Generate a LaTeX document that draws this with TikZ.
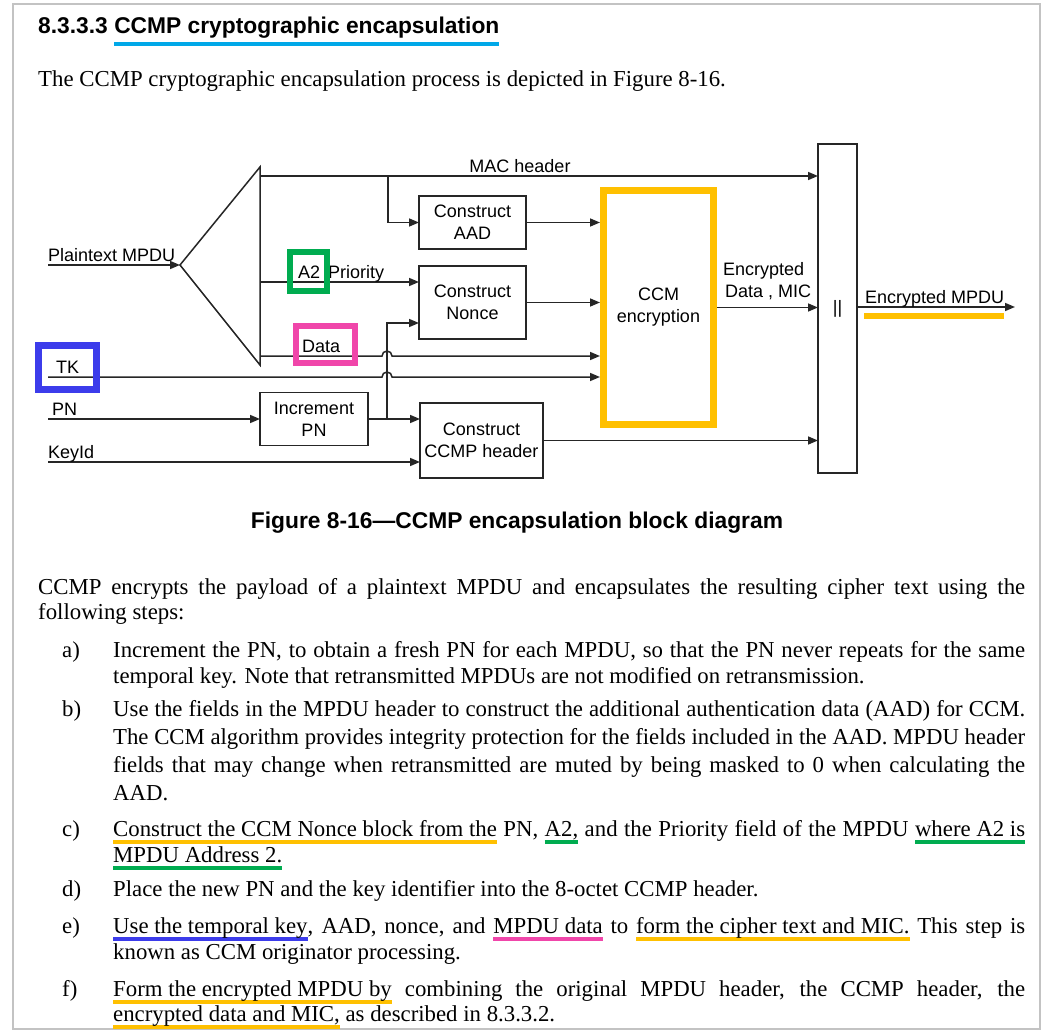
\documentclass[tikz,border=0pt]{standalone}
\usepackage{fontspec}
\usepackage{graphicx}
\setmainfont{Liberation Serif}
\setsansfont{Liberation Sans}
\usetikzlibrary{arrows.meta,positioning,calc}
\definecolor{hlorange}{RGB}{255,192,0}
\definecolor{hlgreen}{RGB}{0,172,80}
\definecolor{hlpink}{RGB}{240,70,170}
\definecolor{hlblue}{RGB}{60,60,235}
\definecolor{hlcyan}{RGB}{0,168,232}
\definecolor{pageedge}{RGB}{195,195,195}

\newcommand\bodyfont{\fontsize{22.8pt}{27pt}\selectfont}
\newcommand\headfont{\sffamily\bfseries\fontsize{22.8pt}{27pt}\selectfont}
\newcommand\diafont{\sffamily\fontsize{18pt}{22pt}\selectfont}
% coloured marker line under a piece of text
\newcommand\hlline[3][-8pt]{\setbox0\hbox{#3}\rlap{\color{#2}\rule[#1]{\wd0}{4.5pt}}\box0\relax}
% one justified line of the body text
\newcommand\jl[2][912pt]{\setbox2\hbox{#2}%
  \ifdim\wd2>#1\relax\resizebox{#1}{\height}{\box2}\else\hbox to #1{\unhbox2}\fi}

\begin{document}
\begin{tikzpicture}[x=1pt,y=-1pt,
  blk/.style={draw=black!85, line width=1.5pt, font=\diafont, align=center, inner sep=0pt, outer sep=0pt},
  arr/.style={draw=black!85, line width=1.5pt, -{Triangle[length=10pt,width=8pt]}},
  ln/.style={draw=black!85, line width=1.5pt},
  lbl/.style={font=\diafont, inner sep=0pt, anchor=base west},
  txt/.style={font=\bodyfont, inner sep=0pt, anchor=base west},
  hlbox/.style={line width=6pt, inner sep=0pt, minimum width=#1}]
  \useasboundingbox (0,0) rectangle (1045,1036);
  \fill[white] (0,0) rectangle (1045,1036);
  \draw[pageedge, line width=2pt] (13,4) rectangle (1040,1029);

  % ===== heading =====
  \node[txt, font=\headfont] (head) at (38,33) {8.3.3.3 \hlline[-13pt]{hlcyan}{CCMP cryptographic encapsulation}};
  \node[txt] (intro) at (38,86) {The CCMP cryptographic encapsulation process is depicted in Figure 8-16.};

  % ===== blocks =====
  \node[blk, minimum width=107pt, minimum height=53pt] (aad) at (472.5,222.5) {Construct\\AAD};
  \node[blk, minimum width=107pt, minimum height=73pt] (nonce) at (472.5,302.5) {Construct\\Nonce};
  \node[blk, minimum width=108pt, minimum height=53pt] (inc) at (314,419) {Increment\\PN};
  \node[blk, minimum width=123pt, minimum height=75pt] (hdr) at (481.5,440.5) {Construct\\CCMP header};
  \node[blk, draw=hlorange, line width=7pt, outer sep=3.5pt, minimum width=110pt, minimum height=234pt] (ccm) at (658.5,307.5) {CCM\\encryption};
  \node[blk, minimum width=39pt, minimum height=329pt] (cat) at (837.5,308.5) {||};

  % splitter for the plaintext MPDU
  \coordinate (tip) at (180,265);
  \coordinate (ttop) at (260,167);
  \coordinate (tbot) at (260,365);
  \draw[ln] (ttop) -- (tip) -- (tbot) -- cycle;

  % ===== inputs =====
  \coordinate (ptin) at (48,265);
  \coordinate (mac) at (260,176);
  \coordinate (macbr) at (388,176);
  \coordinate (a2in) at (260,282);
  \coordinate (datain) at (260,356);
  \coordinate (tkin) at (48,377);
  \coordinate (pnin) at (48,419);
  \coordinate (kidin) at (48,462);
  \coordinate (pnbr) at (387,419);
  \coordinate (ncin) at ([yshift=-20.5pt]nonce.west);
  \coordinate (mpduout) at (1015,307);

  \draw[arr] (ptin) -- (tip);
  \draw[arr] (mac) -- (cat.west |- mac);
  \draw[arr] (macbr) |- (aad.west);
  \draw[arr] (aad.east) -- (ccm.west |- aad.east);
  \draw[arr] (a2in) -- (nonce.west |- a2in);
  \draw[arr] (nonce.east) -- (ccm.west |- nonce.east);
  \draw[arr] (datain) -- ([xshift=-5pt]datain -| pnbr) arc[start angle=180,end angle=0,radius=5pt] -- (ccm.west |- datain);
  \draw[arr] (tkin) -- ([xshift=-5pt]tkin -| pnbr) arc[start angle=180,end angle=0,radius=5pt] -- (ccm.west |- tkin);
  \draw[arr] (pnin) -- (inc.west);
  \draw[arr] (inc.east) -- (hdr.west |- inc.east);
  \draw[arr] (pnbr) |- (ncin);
  \draw[arr] (kidin) -- (hdr.west |- kidin);
  \draw[arr] (hdr.east) -- (cat.west |- hdr.east);
  \draw[arr] (ccm.east) -- (cat.west |- ccm.east);
  \draw[arr] (cat.east |- mpduout) -- (mpduout);

  % ===== labels =====
  \node[lbl] (ptlbl) at (48,261) {Plaintext MPDU};
  \node[lbl, anchor=base] (maclbl) at (520,172) {MAC header};
  \node[lbl] (a2lbl) at (298,278) {A2 \,Priority};
  \node[lbl] (datalbl) at (302,352) {Data};
  \node[lbl] (tklbl) at (56,373) {TK};
  \node[lbl] (pnlbl) at (52,415) {PN};
  \node[lbl] (kidlbl) at (48,458) {KeyId};
  \node[lbl] (enclbl) at (723,275) {Encrypted};
  \node[lbl] (miclbl) at (725,297) {Data , MIC};
  \node[lbl] (mpdulbl) at (865,303) {Encrypted MPDU};
  \node[font=\headfont, anchor=base] (cap) at (517,528) {Figure 8-16---CCMP encapsulation block diagram};

  % ===== colour marks =====
  \node[draw=hlgreen, hlbox=37pt, minimum height=39pt] (a2mark) at (308.5,271.5) {};
  \node[draw=hlpink, hlbox=59pt, minimum height=37pt] (datamark) at (325.5,344.5) {};
  \node[draw=hlblue, hlbox=58pt, line width=7pt, minimum height=44pt] (tkmark) at (67.5,367.5) {};
  \fill[hlorange] ($(mpdulbl.base west)+(-1,10)$) rectangle ($(mpdulbl.base east)+(0,16)$);

  % ===== body text =====
  \node[txt] (p1a) at (38,594) {\jl[987pt]{CCMP encrypts the payload of a plaintext MPDU and encapsulates the resulting cipher text using the}};
  \node[txt] (p1b) at (38,619) {following steps:};

  \node[txt] (la) at (62,657) {a)};
  \node[txt] (a1) at (113,657) {\jl{Increment the PN, to obtain a fresh PN for each MPDU, so that the PN never repeats for the same}};
  \node[txt] (a2) at (113,683) {temporal key. Note that retransmitted MPDUs are not modified on retransmission.};

  \node[txt] (lb) at (62,716) {b)};
  \node[txt] (b1) at (113,716) {\jl{Use the fields in the MPDU header to construct the additional authentication data (AAD) for CCM.}};
  \node[txt] (b2) at (113,744) {\jl{The CCM algorithm provides integrity protection for the fields included in the AAD. MPDU header}};
  \node[txt] (b3) at (113,772) {\jl{fields that may change when retransmitted are muted by being masked to 0 when calculating the}};
  \node[txt] (b4) at (113,800) {AAD.};

  \node[txt] (lc) at (62,836) {c)};
  \node[txt] (c1) at (113,836) {\jl{\hlline{hlorange}{Construct the CCM Nonce block from the} PN, \hlline{hlgreen}{A2,} and the Priority field of the MPDU \hlline{hlgreen}{where A2 is}}};
  \node[txt] (c2) at (113,862) {\hlline{hlgreen}{MPDU Address 2.}};

  \node[txt] (ld) at (62,896) {d)};
  \node[txt] (d1) at (113,896) {Place the new PN and the key identifier into the 8-octet CCMP header.};

  \node[txt] (le) at (62,933) {e)};
  \node[txt] (e1) at (113,933) {\jl{\hlline{hlblue}{Use the temporal key}, AAD, nonce, and \hlline{hlpink}{MPDU data} to \hlline{hlorange}{form the cipher text and MIC.} This step is}};
  \node[txt] (e2) at (113,959) {known as CCM originator processing.};

  \node[txt] (lf) at (62,996) {f)};
  \node[txt] (f1) at (113,996) {\jl{\hlline{hlorange}{Form the encrypted MPDU by} combining the original MPDU header, the CCMP header, the}};
  \node[txt] (f2) at (113,1021) {\hlline{hlorange}{encrypted data and MIC,} as described in 8.3.3.2.};
\end{tikzpicture}
\end{document}
